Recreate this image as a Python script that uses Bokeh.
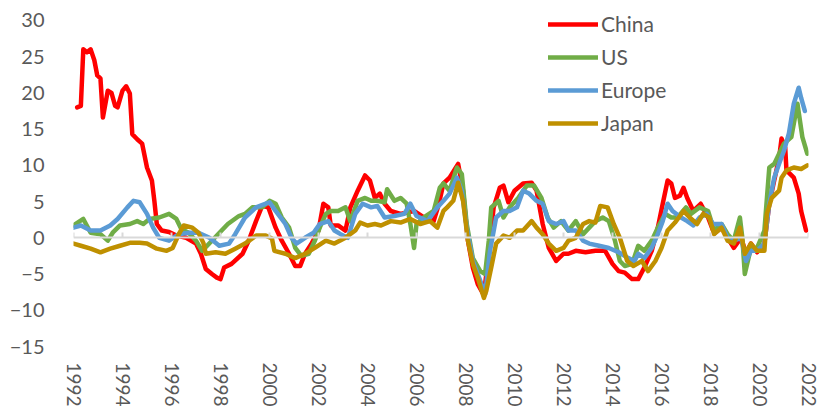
from bokeh.plotting import figure
from bokeh.models import Range1d, FixedTicker, LinearAxis, Legend, LegendItem
from bokeh.embed import file_html
from bokeh.resources import INLINE

# ---------------- data (year, %) ----------------
years_ticks = list(range(1992, 2023, 2))
y_ticks = list(range(-15, 31, 5))

series_names = ["China", "US", "Europe", "Japan"]
series_colors = ["#FF0000", "#70AD47", "#5B9BD5", "#BF9000"]

china_pts = [(1992.15, 18.0), (1992.3, 18.2), (1992.4, 26.0), (1992.55, 25.6), (1992.7, 26.0), (1992.85, 24.5),
             (1992.97, 22.4), (1993.1, 22.0), (1993.2, 16.6), (1993.4, 20.3), (1993.55, 20.0), (1993.7, 18.2),
             (1993.8, 18.0), (1994.0, 20.3), (1994.15, 20.9), (1994.3, 19.9), (1994.4, 14.3), (1994.6, 13.6),
             (1994.8, 13.0), (1995.0, 9.7), (1995.2, 7.9), (1995.3, 5.1), (1995.4, 1.9), (1995.6, 1.0),
             (1995.9, 0.8), (1996.2, 0.3), (1996.6, 0.0), (1997.0, -0.8), (1997.2, -2.2), (1997.4, -4.3),
             (1997.65, -5.0), (1997.85, -5.5), (1998.0, -5.7), (1998.15, -4.1), (1998.45, -3.6), (1998.9, -2.2),
             (1999.15, -0.4), (1999.45, 2.3), (1999.7, 4.4), (1999.95, 4.2), (2000.25, 1.4), (2000.5, -0.4),
             (2000.8, -2.2), (2001.05, -3.9), (2001.25, -3.9), (2001.45, -2.2), (2001.7, -0.9), (2002.0, 1.0),
             (2002.2, 4.7), (2002.4, 4.2), (2002.5, 1.7), (2002.8, 1.7), (2003.1, 1.0), (2003.3, 4.2),
             (2003.6, 6.5), (2003.9, 8.6), (2004.1, 7.9), (2004.3, 5.5), (2004.5, 6.1), (2004.7, 4.7),
             (2004.95, 3.7), (2005.35, 3.3), (2005.9, 3.7), (2006.3, 2.8), (2006.7, 2.3), (2006.9, 4.5),
             (2007.1, 7.5), (2007.35, 8.3), (2007.7, 10.2), (2007.9, 6.5), (2008.1, -0.4), (2008.3, -4.1),
             (2008.5, -6.4), (2008.75, -7.9), (2008.85, -5.0), (2009.0, -0.4), (2009.15, 4.2), (2009.4, 6.9),
             (2009.55, 7.2), (2009.75, 4.9), (2010.0, 6.5), (2010.35, 7.5), (2010.7, 7.6), (2010.9, 6.5),
             (2011.15, 1.9), (2011.4, -1.4), (2011.7, -3.2), (2012.0, -2.2), (2012.2, -2.2), (2012.5, -1.8),
             (2012.9, -2.0), (2013.3, -1.8), (2013.7, -1.8), (2014.0, -3.6), (2014.25, -4.6), (2014.5, -4.8),
             (2014.8, -5.7), (2015.05, -5.7), (2015.3, -4.1), (2015.6, -1.8), (2015.85, 1.4), (2016.05, 4.7),
             (2016.25, 7.9), (2016.4, 7.5), (2016.55, 5.5), (2016.75, 5.8), (2016.9, 6.9), (2017.05, 5.5),
             (2017.3, 3.7), (2017.6, 4.7), (2017.9, 2.8), (2018.15, 0.6), (2018.45, 1.4), (2018.7, 0.0),
             (2018.95, -1.4), (2019.25, 0.0), (2019.45, -2.2), (2019.65, -0.8), (2019.9, -2.0), (2020.2, -0.8),
             (2020.4, 4.7), (2020.6, 7.9), (2020.8, 11.0), (2020.9, 13.7), (2021.05, 12.4), (2021.1, 9.3),
             (2021.4, 8.3), (2021.6, 6.1), (2021.7, 3.7), (2021.9, 1.0)]

us_pts = [(1992.0, 1.7), (1992.4, 2.6), (1992.7, 0.7), (1993.1, 0.5), (1993.4, -0.4), (1993.6, 0.7),
          (1993.9, 1.7), (1994.3, 1.9), (1994.6, 2.3), (1994.85, 1.9), (1995.1, 2.6), (1995.5, 2.8),
          (1995.9, 3.3), (1996.2, 2.6), (1996.4, 1.2), (1996.7, 0.7), (1997.0, -0.4), (1997.25, -1.8),
          (1997.65, -0.4), (1997.9, 0.5), (1998.3, 1.9), (1998.75, 3.0), (1999.0, 3.3), (1999.3, 4.2),
          (1999.7, 4.2), (2000.0, 5.1), (2000.25, 4.7), (2000.5, 2.8), (2000.8, 1.4), (2001.05, -1.4),
          (2001.3, -2.5), (2001.6, -2.2), (2001.85, -0.4), (2002.05, 1.4), (2002.3, 3.3), (2002.5, 3.7),
          (2002.8, 3.7), (2003.1, 4.2), (2003.3, 2.3), (2003.6, 5.1), (2003.9, 5.5), (2004.15, 5.1),
          (2004.4, 5.1), (2004.7, 4.9), (2004.8, 6.7), (2005.1, 5.1), (2005.35, 5.5), (2005.6, 4.7),
          (2005.75, 1.9), (2005.9, -1.4), (2006.0, 1.9), (2006.3, 2.8), (2006.7, 3.7), (2006.95, 6.9),
          (2007.1, 7.5), (2007.35, 6.5), (2007.65, 9.7), (2007.85, 8.8), (2008.05, 1.9), (2008.3, -2.8),
          (2008.6, -4.6), (2008.8, -5.0), (2008.95, -0.4), (2009.05, 4.2), (2009.35, 5.1), (2009.55, 2.8),
          (2009.8, 4.2), (2010.15, 5.5), (2010.5, 7.2), (2010.8, 7.2), (2011.1, 5.5), (2011.35, 2.8),
          (2011.6, 1.4), (2011.9, 2.3), (2012.2, 1.0), (2012.5, 2.3), (2012.8, 0.5), (2013.05, 1.4),
          (2013.3, 2.3), (2013.6, 2.8), (2013.85, 2.3), (2014.1, -0.4), (2014.3, -3.2), (2014.5, -3.9),
          (2014.8, -3.6), (2015.05, -1.1), (2015.3, -1.8), (2015.6, -0.4), (2015.85, 1.4), (2016.15, 3.3),
          (2016.4, 2.8), (2016.65, 2.8), (2017.0, 4.2), (2017.2, 3.3), (2017.55, 4.2), (2017.9, 3.7),
          (2018.15, 1.0), (2018.45, 1.9), (2018.7, 0.5), (2018.95, -0.4), (2019.2, 2.8), (2019.3, 0.0),
          (2019.4, -5.0), (2019.65, -1.4), (2019.9, -1.4), (2020.2, 1.0), (2020.4, 9.7), (2020.6, 10.2),
          (2020.8, 11.6), (2021.0, 13.0), (2021.3, 13.9), (2021.55, 18.5), (2021.75, 13.9), (2021.95, 11.6)]

europe_pts = [(1992.0, 1.4), (1992.3, 1.7), (1992.7, 1.0), (1993.1, 1.0), (1993.5, 1.7), (1993.8, 2.6),
              (1994.2, 4.2), (1994.45, 5.1), (1994.7, 4.9), (1995.0, 3.3), (1995.25, 1.4), (1995.5, 0.0),
              (1995.9, -0.4), (1996.3, 0.5), (1996.7, 0.7), (1997.1, 0.7), (1997.55, 0.0), (1997.95, -1.1),
              (1998.35, -0.8), (1998.6, 0.5), (1999.0, 2.8), (1999.45, 4.2), (1999.85, 4.7), (2000.0, 4.9),
              (2000.25, 3.7), (2000.65, 1.9), (2000.9, 0.0), (2001.1, -0.8), (2001.45, 0.0), (2001.8, 0.7),
              (2002.05, 1.9), (2002.4, 2.3), (2002.65, 1.0), (2002.9, 0.5), (2003.2, 0.0), (2003.5, 3.3),
              (2003.8, 4.7), (2004.15, 4.2), (2004.4, 4.4), (2004.7, 2.8), (2005.1, 3.0), (2005.5, 3.3),
              (2005.75, 4.7), (2006.0, 3.0), (2006.45, 2.3), (2006.85, 4.2), (2007.1, 5.1), (2007.35, 6.1),
              (2007.65, 8.3), (2007.85, 6.5), (2008.05, 1.4), (2008.3, -3.2), (2008.6, -5.9), (2008.8, -7.8),
              (2009.0, -1.8), (2009.25, 2.8), (2009.55, 3.7), (2009.8, 3.7), (2010.1, 4.2), (2010.35, 6.5),
              (2010.6, 6.1), (2010.9, 5.1), (2011.15, 4.7), (2011.4, 2.3), (2011.7, 1.9), (2012.0, 2.3),
              (2012.2, 1.0), (2012.5, 1.0), (2012.8, -0.4), (2013.05, -0.8), (2013.45, -1.1), (2013.85, -1.4),
              (2014.25, -2.0), (2014.65, -2.8), (2014.9, -3.2), (2015.05, -2.2), (2015.3, -2.8), (2015.6, -1.4),
              (2015.85, 0.5), (2016.05, 2.3), (2016.25, 4.7), (2016.45, 3.7), (2016.8, 2.8), (2017.05, 2.3),
              (2017.3, 1.7), (2017.55, 2.8), (2017.85, 3.3), (2018.1, 1.9), (2018.45, 1.9), (2018.7, 0.0),
              (2018.95, -0.4), (2019.25, 0.0), (2019.45, -3.2), (2019.65, -1.8), (2019.9, -1.8), (2020.2, -0.8),
              (2020.4, 4.7), (2020.6, 8.3), (2020.8, 10.2), (2021.0, 12.0), (2021.2, 14.4), (2021.4, 18.5),
              (2021.6, 20.7), (2021.7, 19.3), (2021.85, 17.5)]

japan_pts = [(1992.0, -0.8), (1992.3, -1.1), (1992.7, -1.5), (1993.1, -2.0), (1993.5, -1.5), (1993.9, -1.1),
             (1994.3, -0.7), (1994.7, -0.7), (1995.0, -0.8), (1995.4, -1.5), (1995.8, -1.8), (1996.05, -1.4),
             (1996.3, 0.5), (1996.5, 1.7), (1996.85, 1.4), (1997.1, 0.7), (1997.3, -0.7), (1997.4, -2.2),
             (1997.8, -2.0), (1998.2, -2.2), (1998.6, -1.5), (1999.0, -0.8), (1999.45, 0.3), (1999.85, 0.3),
             (2000.1, -0.1), (2000.2, -1.8), (2000.65, -2.2), (2001.05, -2.8), (2001.45, -2.2), (2001.85, -1.4),
             (2002.3, -0.4), (2002.65, -0.8), (2003.1, 0.0), (2003.5, 1.0), (2003.7, 2.1), (2004.0, 1.7),
             (2004.3, 1.9), (2004.55, 1.7), (2004.95, 2.3), (2005.35, 2.1), (2005.75, 2.6), (2006.15, 1.9),
             (2006.55, 2.3), (2006.85, 1.4), (2007.1, 3.7), (2007.25, 4.2), (2007.5, 5.1), (2007.7, 7.6),
             (2007.9, 5.1), (2008.1, -0.4), (2008.3, -3.6), (2008.5, -5.5), (2008.75, -8.3), (2008.85, -7.3),
             (2009.05, -4.1), (2009.25, -0.8), (2009.55, 0.3), (2009.8, 0.0), (2010.1, 1.0), (2010.35, 1.0),
             (2010.7, 2.3), (2010.9, 1.4), (2011.15, 0.5), (2011.4, -0.8), (2011.7, -1.8), (2012.0, -1.4),
             (2012.2, -0.4), (2012.5, 0.0), (2012.8, 1.9), (2013.05, 2.3), (2013.3, 2.1), (2013.5, 4.4),
             (2013.8, 4.2), (2014.05, 1.9), (2014.3, 0.0), (2014.6, -3.2), (2014.85, -3.9), (2015.0, -3.6),
             (2015.2, -3.2), (2015.45, -4.6), (2015.75, -3.2), (2016.0, -1.4), (2016.25, 1.0), (2016.55, 2.1),
             (2016.9, 3.7), (2017.15, 2.8), (2017.45, 1.9), (2017.7, 3.3), (2017.95, 2.8), (2018.15, 0.5),
             (2018.45, 1.4), (2018.7, -0.4), (2018.95, -0.8), (2019.2, 1.4), (2019.4, -2.2), (2019.65, -0.8),
             (2019.9, -1.8), (2020.2, -1.8), (2020.3, 3.3), (2020.5, 5.5), (2020.8, 6.5), (2020.9, 8.3),
             (2021.1, 9.3), (2021.4, 9.7), (2021.7, 9.5), (2021.95, 10.0)]

all_series = [china_pts, us_pts, europe_pts, japan_pts]

# ---------------- figure ----------------
FONT = "Lato"
TXT = "#595959"

p = figure(width=822, height=409, output_backend="svg", toolbar_location=None,
           x_range=Range1d(1992, 2022), y_range=Range1d(-15, 31.5),
           min_border_left=73, min_border_right=14, min_border_top=9, min_border_bottom=63)
p.outline_line_color = None
p.xgrid.visible = False
p.ygrid.visible = False
p.background_fill_color = "white"

# y axis
p.yaxis.ticker = FixedTicker(ticks=y_ticks)
p.yaxis.axis_line_color = None
p.yaxis.major_tick_line_color = None
p.yaxis.minor_tick_line_color = None
p.yaxis.major_label_standoff = 23
p.yaxis.major_label_text_font = FONT
p.yaxis.major_label_text_font_size = "20px"
p.yaxis.major_label_text_color = TXT

# x axis (labels only)
p.xaxis.ticker = FixedTicker(ticks=years_ticks)
p.xaxis.axis_line_color = None
p.xaxis.major_tick_line_color = None
p.xaxis.minor_tick_line_color = None
p.xaxis.major_label_orientation = "vertical"
p.xaxis.major_label_standoff = 10
p.xaxis.major_label_text_font = FONT
p.xaxis.major_label_text_font_size = "19px"
p.xaxis.major_label_text_color = TXT

# zero line axis with upward ticks
zero_axis = LinearAxis(fixed_location=0, ticker=FixedTicker(ticks=years_ticks))
zero_axis.axis_line_color = "#D9D9D9"
zero_axis.axis_line_width = 2
zero_axis.major_tick_line_color = "#D9D9D9"
zero_axis.major_tick_line_width = 2
zero_axis.major_tick_in = 5
zero_axis.major_tick_out = 0
zero_axis.minor_tick_line_color = None
zero_axis.major_label_text_font_size = "0px"
zero_axis.major_label_text_alpha = 0
p.add_layout(zero_axis, "below")

items = []
for name, color, pts in zip(series_names, series_colors, all_series):
    xs = [a for a, b in pts]
    ys = [b for a, b in pts]
    r = p.line(xs, ys, line_color=color, line_width=4.5, line_join="round", line_cap="round")
    items.append(LegendItem(label=name, renderers=[r]))

legend = Legend(items=items, location=(475, 211))
legend.border_line_color = None
legend.background_fill_alpha = 0
legend.padding = 0
legend.margin = 0
legend.spacing = 8
legend.glyph_width = 50
legend.glyph_height = 20
legend.label_height = 20
legend.label_standoff = 3
legend.label_text_font = FONT
legend.label_text_font_size = "21px"
legend.label_text_color = TXT
p.add_layout(legend, "center")

open("out.html", "w").write(file_html(p, INLINE))
